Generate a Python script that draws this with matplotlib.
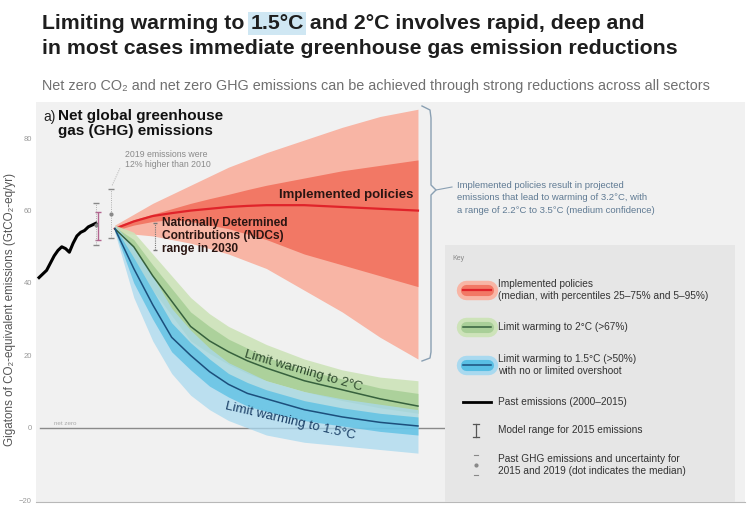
import matplotlib
matplotlib.use("Agg")
import matplotlib.pyplot as plt
from matplotlib.patches import Rectangle

W, H = 753, 505
FONT = ["Liberation Sans", "DejaVu Sans"]

# past emissions (GtCO2-eq/yr)
past_years = list(range(2000, 2016))
past_vals = [41.5, 42.5, 43.5, 45.5, 47.5, 49, 50, 49.5, 48.5, 51, 53, 54, 54.5, 55.5, 56, 56.5]

proj_years = [2020, 2025, 2030, 2035, 2040, 2045, 2050, 2055, 2060, 2070, 2080, 2090, 2100]

# implemented policies
cur_med = [55, 57, 58.5, 59.3, 60, 60.5, 61, 61.3, 61.5, 61.5, 61, 60.5, 60]
cur_p25 = [54.5, 56, 57, 57.5, 57, 56, 55, 53.5, 52, 48, 45, 42, 39]
cur_p75 = [55.5, 57.5, 59, 60.5, 62, 63.3, 64.5, 65.8, 67, 69, 71, 72.5, 74]
cur_p05 = [54, 53.5, 53, 52, 51, 49.5, 48, 46, 44, 38, 32, 25, 19]
cur_p95 = [56, 59, 62, 64.5, 67, 69.5, 72, 74, 76, 79.5, 83, 86, 88]

# limit warming to 2C (>67%)
c2_med = [55, 50, 42, 35, 28, 24, 21, 18.5, 16.5, 13, 10.5, 8, 6]
c2_p05 = [54, 44, 33, 25, 19, 15, 12, 10, 8, 5, 3, 1.5, 0.5]
c2_p25 = [54.5, 47, 38, 31, 24, 20.5, 17.5, 15, 13, 10, 7.5, 5.5, 4]
c2_p75 = [55.5, 52, 45, 38.5, 32, 28, 24.5, 22, 19.5, 16, 13.5, 11, 9.5]
c2_p95 = [56, 54, 48, 42, 36, 31.5, 28, 25.5, 23, 19, 16, 14, 13]

# limit warming to 1.5C (>50%)
c15_med = [55, 44, 34, 25, 20, 15.5, 12, 9.5, 8, 5, 3, 1.5, 0.5]
c15_p05 = [54, 36, 24, 15, 9, 5, 2, 0, -2, -4, -5, -6, -7]
c15_p25 = [54.5, 40, 30, 21, 16, 11.5, 8.5, 6, 4.5, 2, 0.5, -1, -2]
c15_p75 = [55.5, 47, 38, 29, 23.5, 19, 15, 12.5, 10.5, 7.5, 5.5, 4, 3]
c15_p95 = [56, 50, 42, 33, 27, 22, 18, 15.5, 13, 10, 8, 6.5, 5]

# NDC range in 2030, model range 2015, past GHG with uncertainty
ndc_year, ndc_lo, ndc_hi = 2030.5, 49, 56.5
model_year, model_lo, model_hi = 2015.5, 52, 59.5
ghg_years = [2015, 2019]
ghg_med = [56, 59]
ghg_lo = [50.5, 52.5]
ghg_hi = [62, 66]

yticks = [-20, 0, 20, 40, 60, 80]


def rect(x0, y0, x1, y1):
    return [x0 / W, 1 - y1 / H, (x1 - x0) / W, (y1 - y0) / H]


plt.rcParams["font.family"] = FONT
fig = plt.figure(figsize=(W / 100, H / 100), dpi=100)
fig.patch.set_facecolor("white")

ax = fig.add_axes(rect(36, 102, 745, 502))
ax.set_facecolor("#f1f1f1")
ax.set_xlim(1999.2, 2186.3)
ax.set_ylim(-20.5, 90)
for s in ["top", "right", "left"]:
    ax.spines[s].set_visible(False)
ax.spines["bottom"].set_color("#b8b8b8")
ax.set_xticks([])
ax.set_yticks(yticks)
ax.tick_params(axis="y", length=0, labelsize=5.5, labelcolor="#999999", pad=3)
ax.axhline(0, xmin=0.005, xmax=0.6, color="#8a8a8a", lw=1)
ax.text(2004, 0.8, "net zero", fontsize=4.5, color="#aaaaaa")

# implemented policies fan
ax.fill_between(proj_years, cur_p05, cur_p95, color="#f8b5a5", lw=0, zorder=2)
ax.fill_between(proj_years, cur_p25, cur_p75, color="#f27865", lw=0, zorder=2)
ax.plot(proj_years, cur_med, color="#e0232a", lw=1.6, zorder=3)

# 2C fan
ax.fill_between(proj_years, c2_p05, c2_p95, color="#cde3b9", alpha=0.9, lw=0, zorder=4)
ax.fill_between(proj_years, c2_p25, c2_p75, color="#a9cf98", alpha=0.9, lw=0, zorder=4)
ax.plot(proj_years, c2_med, color="#36613d", lw=1.1, zorder=6)

# 1.5C fan
ax.fill_between(proj_years, c15_p05, c15_p95, color="#a9d9ef", alpha=0.75, lw=0, zorder=5)
ax.fill_between(proj_years, c15_p25, c15_p75, color="#58bfe4", alpha=0.75, lw=0, zorder=5)
ax.plot(proj_years, c15_med, color="#1c4f7c", lw=1.1, zorder=6)

# past emissions
ax.plot(past_years, past_vals, color="black", lw=2.2, zorder=7)

# model range 2015
ax.errorbar([model_year], [(model_lo + model_hi) / 2], yerr=[[(model_hi - model_lo) / 2]],
            fmt="none", ecolor="#b2658f", elinewidth=1, capsize=2, zorder=8)
# past GHG with uncertainty
for yr, m, lo, hi in zip(ghg_years, ghg_med, ghg_lo, ghg_hi):
    ax.plot([yr, yr], [lo, hi], color="#9a9a9a", lw=0.6, ls=":", zorder=8)
    ax.plot([yr], [m], "o", color="#888888", ms=2, zorder=8)
    ax.plot([yr, yr], [lo, hi], "_", color="#888888", ms=4, zorder=8)
ax.plot([ghg_years[1] + 0.3, 2021.5], [ghg_hi[1] + 1, 72], color="#9a9a9a", lw=0.6, ls=":")
ax.text(2022.8, 71.5, "2019 emissions were\n12% higher than 2010", fontsize=6.3,
        color="#8a8a8a", va="bottom", linespacing=1.15)

# NDC range
ax.plot([ndc_year, ndc_year], [ndc_lo, ndc_hi], color="#777777", lw=0.8, ls=(0, (1, 1)), zorder=8)
ax.plot([ndc_year, ndc_year], [ndc_lo, ndc_hi], "_", color="#777777", ms=3, zorder=8)
ax.text(2032.5, 58.3, "Nationally Determined\nContributions (NDCs)\nrange in 2030",
        fontsize=8.6, fontweight="bold", color="#2a1512",
        va="top", linespacing=1.1, zorder=9)
ax.text(2081, 64.4, "Implemented policies", fontsize=9.5, fontweight="bold",
        color="#2a1512", ha="center", va="center", zorder=9)
ax.text(2069.7, 15.8, "Limit warming to 2\u00b0C", fontsize=9.5, color="#2e4a2e",
        ha="center", va="center", rotation=-16, zorder=9)
ax.text(2066.2, 1.8, "Limit warming to 1.5\u00b0C", fontsize=9.5, color="#1a3f66",
        ha="center", va="center", rotation=-13, zorder=9)

# overlay in pixel coordinates for title, bracket and key
ov = fig.add_axes([0, 0, 1, 1])
ov.set_xlim(0, W)
ov.set_ylim(H, 0)
ov.axis("off")
ov.patch.set_alpha(0)

ov.text(10, 310, "Gigatons of CO\u2082-equivalent emissions (GtCO\u2082-eq/yr)", fontsize=8.4,
        color="#555555", rotation=90, ha="center", va="center")

TS = 15.3
t = ov.text(42, 29, "Limiting warming to ", fontsize=TS, fontweight="bold",
            color="#1e1e1e", va="baseline")
fig.canvas.draw()
x15 = 42 + t.get_window_extent().width
t2 = ov.text(x15, 29, "1.5\u00b0C", fontsize=TS, fontweight="bold",
             color="#1e1e1e", va="baseline",
             bbox=dict(boxstyle="square,pad=0.1", fc="#cfe7f3", ec="none"))
fig.canvas.draw()
x2 = x15 + t2.get_window_extent().width
ov.text(x2, 29, " and 2\u00b0C involves rapid, deep and", fontsize=TS, fontweight="bold",
        color="#1e1e1e", va="baseline")
ov.text(42, 54, "in most cases immediate greenhouse gas emission reductions", fontsize=TS,
        fontweight="bold", color="#1e1e1e", va="baseline")
ov.text(42, 90, "Net zero CO\u2082 and net zero GHG emissions can be achieved through strong "
        "reductions across all sectors", fontsize=10.4, color="#707070", va="baseline")

ov.text(43, 117, "a)", fontsize=10, color="#222222", va="center")
ov.text(58, 109, "Net global greenhouse\ngas (GHG) emissions", fontsize=11,
        fontweight="bold", color="#111111", va="top", linespacing=1.05)

# bracket
bc = "#8aa0b3"
ov.plot([422, 430, 431, 431, 436, 431, 431, 430, 422],
        [106, 110, 118, 185, 190, 195, 352, 358, 361], color=bc, lw=1)
ov.plot([436, 452], [190, 187], color=bc, lw=0.8)
ov.text(457, 198, "Implemented policies result in projected\nemissions that lead to warming of 3.2\u00b0C, with\n"
        "a range of 2.2\u00b0C to 3.5\u00b0C (medium confidence)", fontsize=6.8,
        color="#5f7a93", va="center", linespacing=1.5)

# key box
ov.add_patch(Rectangle((445, 245), 290, 257, fc="#e6e6e6", ec="none"))
ov.text(452, 258, "Key", fontsize=5, color="#888888", va="center")
kx0, kx1, tx = 466, 488, 498
KS = 7.3
ov.plot([kx0, kx1], [290, 290], color="#f8b5a5", lw=14, solid_capstyle="round")
ov.plot([kx0, kx1], [290, 290], color="#f27865", lw=8, solid_capstyle="round")
ov.plot([kx0 - 3, kx1 + 3], [290, 290], color="#e0232a", lw=1.6)
ov.text(tx, 290, "Implemented policies\n(median, with percentiles 25\u201375% and 5\u201395%)",
        fontsize=KS, color="#333333", va="center", linespacing=1.15)
ov.plot([kx0, kx1], [327, 327], color="#cde3b9", lw=14, solid_capstyle="round")
ov.plot([kx0, kx1], [327, 327], color="#a9cf98", lw=8, solid_capstyle="round")
ov.plot([kx0 - 3, kx1 + 3], [327, 327], color="#36613d", lw=1.1)
ov.text(tx, 327, "Limit warming to 2\u00b0C (>67%)", fontsize=KS, color="#333333", va="center")
ov.plot([kx0, kx1], [365, 365], color="#a9d9ef", lw=14, solid_capstyle="round")
ov.plot([kx0, kx1], [365, 365], color="#58bfe4", lw=8, solid_capstyle="round")
ov.plot([kx0 - 3, kx1 + 3], [365, 365], color="#1c4f7c", lw=1.1)
ov.text(tx, 365, "Limit warming to 1.5\u00b0C (>50%)\nwith no or limited overshoot",
        fontsize=KS, color="#333333", va="center", linespacing=1.15)
ov.plot([kx0 - 3, kx1 + 3], [402, 402], color="black", lw=2)
ov.text(tx, 402, "Past emissions (2000\u20132015)", fontsize=KS, color="#333333", va="center")
ov.plot([476, 476], [424, 437], color="#555555", lw=0.9)
ov.plot([473, 479], [424, 424], color="#555555", lw=0.9)
ov.plot([473, 479], [437, 437], color="#555555", lw=0.9)
ov.text(tx, 430, "Model range for 2015 emissions", fontsize=KS, color="#333333", va="center")
ov.plot([474, 478], [455, 455], color="#888888", lw=0.8)
ov.plot([476], [465], "o", color="#888888", ms=2)
ov.plot([474, 478], [475, 475], color="#888888", lw=0.8)
ov.text(tx, 465, "Past GHG emissions and uncertainty for\n2015 and 2019 (dot indicates the median)",
        fontsize=KS, color="#333333", va="center", linespacing=1.15)

fig.savefig("out.png", dpi=100)
